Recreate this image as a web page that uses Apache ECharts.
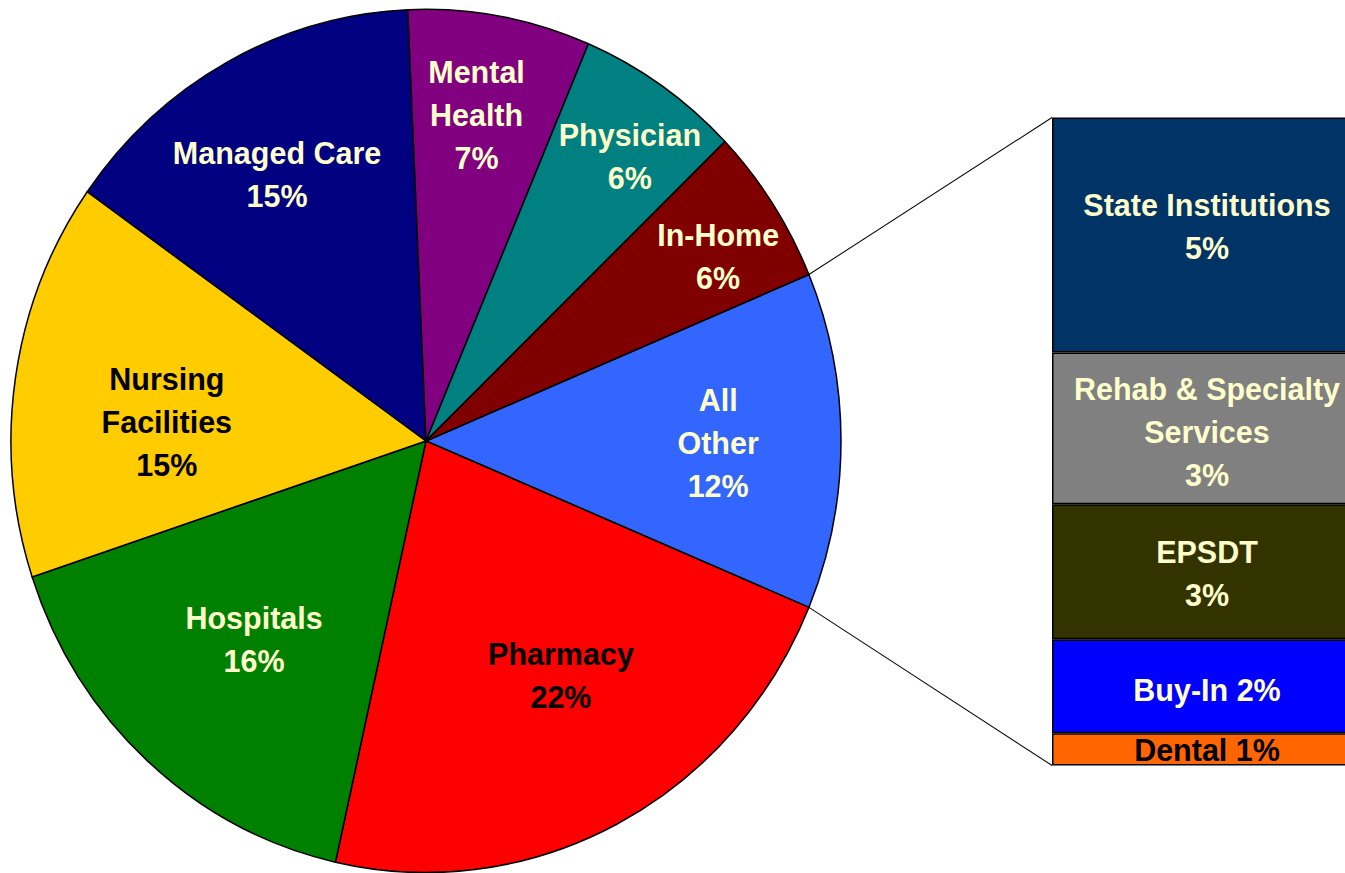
<!DOCTYPE html>
<html>
<head>
<meta charset="utf-8">
<script src="https://cdn.jsdelivr.net/npm/echarts@6/dist/echarts.min.js"></script>
<style>
html, body { margin: 0; padding: 0; background: #fff; width: 1345px; height: 873px; overflow: hidden; }
/* the source picture is stretched a little vertically, so is the chart */
#main { width: 1345px; height: 840px; transform: scaleY(1.04); transform-origin: 0 0; }
</style>
</head>
<body>
<div id="main"></div>
<script>
// pie slices, clockwise from the 3 o'clock side
const pieNames = ['All\nOther', 'Pharmacy', 'Hospitals', 'Nursing\nFacilities', 'Managed Care', 'Mental\nHealth', 'Physician', 'In-Home'];
const pieValues = [12.6, 22.2, 16.4, 14.9, 14.5, 7.1, 6.4, 5.9];
const piePct = ['12%', '22%', '16%', '15%', '15%', '7%', '6%', '6%'];

// break-down of "All Other", top to bottom
const barNames = ['State Institutions', 'Rehab & Specialty\nServices', 'EPSDT', 'Buy-In', 'Dental'];
const barValues = [4.75, 3.07, 2.73, 1.90, 0.65];
const barPct = ['5%', '3%', '3%', '2%', '1%'];
const barJoin = ['\n', '\n', '\n', ' ', ' '];

const cream = '#FFFFCC';
const pieColors = ['#3366FF', '#FF0000', '#008000', '#FFCC00', '#000080', '#800080', '#008080', '#800000'];
const pieText = [cream, '#000000', cream, '#000000', cream, cream, cream, cream];
const barColors = ['#003366', '#808080', '#333300', '#0000FF', '#FF6600'];
const barText = [cream, cream, cream, cream, '#000000'];
const barLabelDy = [-8, 4, 2, 4, 1];

// label placement inside the slices: fraction of radius, angle shift (deg)
const labelR = [0.704, 0.634, 0.62, 0.626, 0.713, 0.765, 0.821, 0.823];
const labelShift = [0.4, -3.5, -0.2, -4.5, -1.6, -1.1, 2.2, 2.1];

const cx = 426, cy = 424, R = 415;
const grid = { left: 1052, top: 113, width: 310, height: 623, outerBoundsMode: 'none' };

const pieTotal = pieValues.reduce((a, b) => a + b, 0);
const barTotal = barValues.reduce((a, b) => a + b, 0);
const startAngle = pieValues[0] / pieTotal * 180;   // "All Other" centred on the right

const cum = [];
pieValues.reduce((acc, v, i) => { cum[i] = acc; return acc + v; }, 0);

const font = {
  fontFamily: '"Liberation Sans", Arial, sans-serif',
  fontWeight: 'bold',
  fontSize: 30.5,
  lineHeight: 41.5
};

const chart = echarts.init(document.getElementById('main'), null, { renderer: 'svg' });

const barSeries = barNames.map((name, i) => ({
  name: name,
  type: 'bar',
  stack: 'other',
  barWidth: '100%',
  data: [barValues[i]],
  itemStyle: { color: barColors[i], borderColor: '#000', borderWidth: 1.5 },
  label: Object.assign({
    show: true,
    position: 'inside',
    offset: [0, barLabelDy[i]],
    color: barText[i],
    formatter: name + barJoin[i] + barPct[i]
  }, font),
  emphasis: { disabled: true }
}));

// connector lines from the "All Other" slice edges to the bar
const a0 = -startAngle * Math.PI / 180, a1 = startAngle * Math.PI / 180;

const option = {
  animation: false,
  backgroundColor: '#fff',
  grid: grid,
  xAxis: { type: 'category', data: ['All Other'], show: false },
  yAxis: { type: 'value', inverse: true, min: 0, max: barTotal, show: false },
  graphic: [
    { type: 'line', shape: { x1: cx + R * Math.cos(a0), y1: cy + R * Math.sin(a0), x2: grid.left, y2: grid.top },
      style: { stroke: '#000', lineWidth: 1 } },
    { type: 'line', shape: { x1: cx + R * Math.cos(a1), y1: cy + R * Math.sin(a1), x2: grid.left, y2: grid.top + grid.height },
      style: { stroke: '#000', lineWidth: 1 } }
  ],
  series: [
    {
      type: 'pie',
      center: [cx, cy],
      radius: [0, R],
      startAngle: startAngle,
      clockwise: true,
      avoidLabelOverlap: false,
      data: pieNames.map((n, i) => ({
        name: n,
        value: pieValues[i],
        itemStyle: { color: pieColors[i] },
        label: { color: pieText[i] }
      })),
      itemStyle: { borderColor: '#000', borderWidth: 1.5 },
      label: Object.assign({
        show: true,
        position: 'inside',
        formatter: p => p.name + '\n' + piePct[p.dataIndex]
      }, font),
      labelLine: { show: false },
      labelLayout: function (p) {
        const i = p.dataIndex;
        const deg = -startAngle + (cum[i] + pieValues[i] / 2) / pieTotal * 360 + labelShift[i];
        const rad = deg * Math.PI / 180;
        const r = R * labelR[i];
        return { x: cx + r * Math.cos(rad), y: cy + r * Math.sin(rad), align: 'center', verticalAlign: 'middle' };
      },
      emphasis: { disabled: true }
    }
  ].concat(barSeries)
};

chart.setOption(option);
</script>
</body>
</html>
